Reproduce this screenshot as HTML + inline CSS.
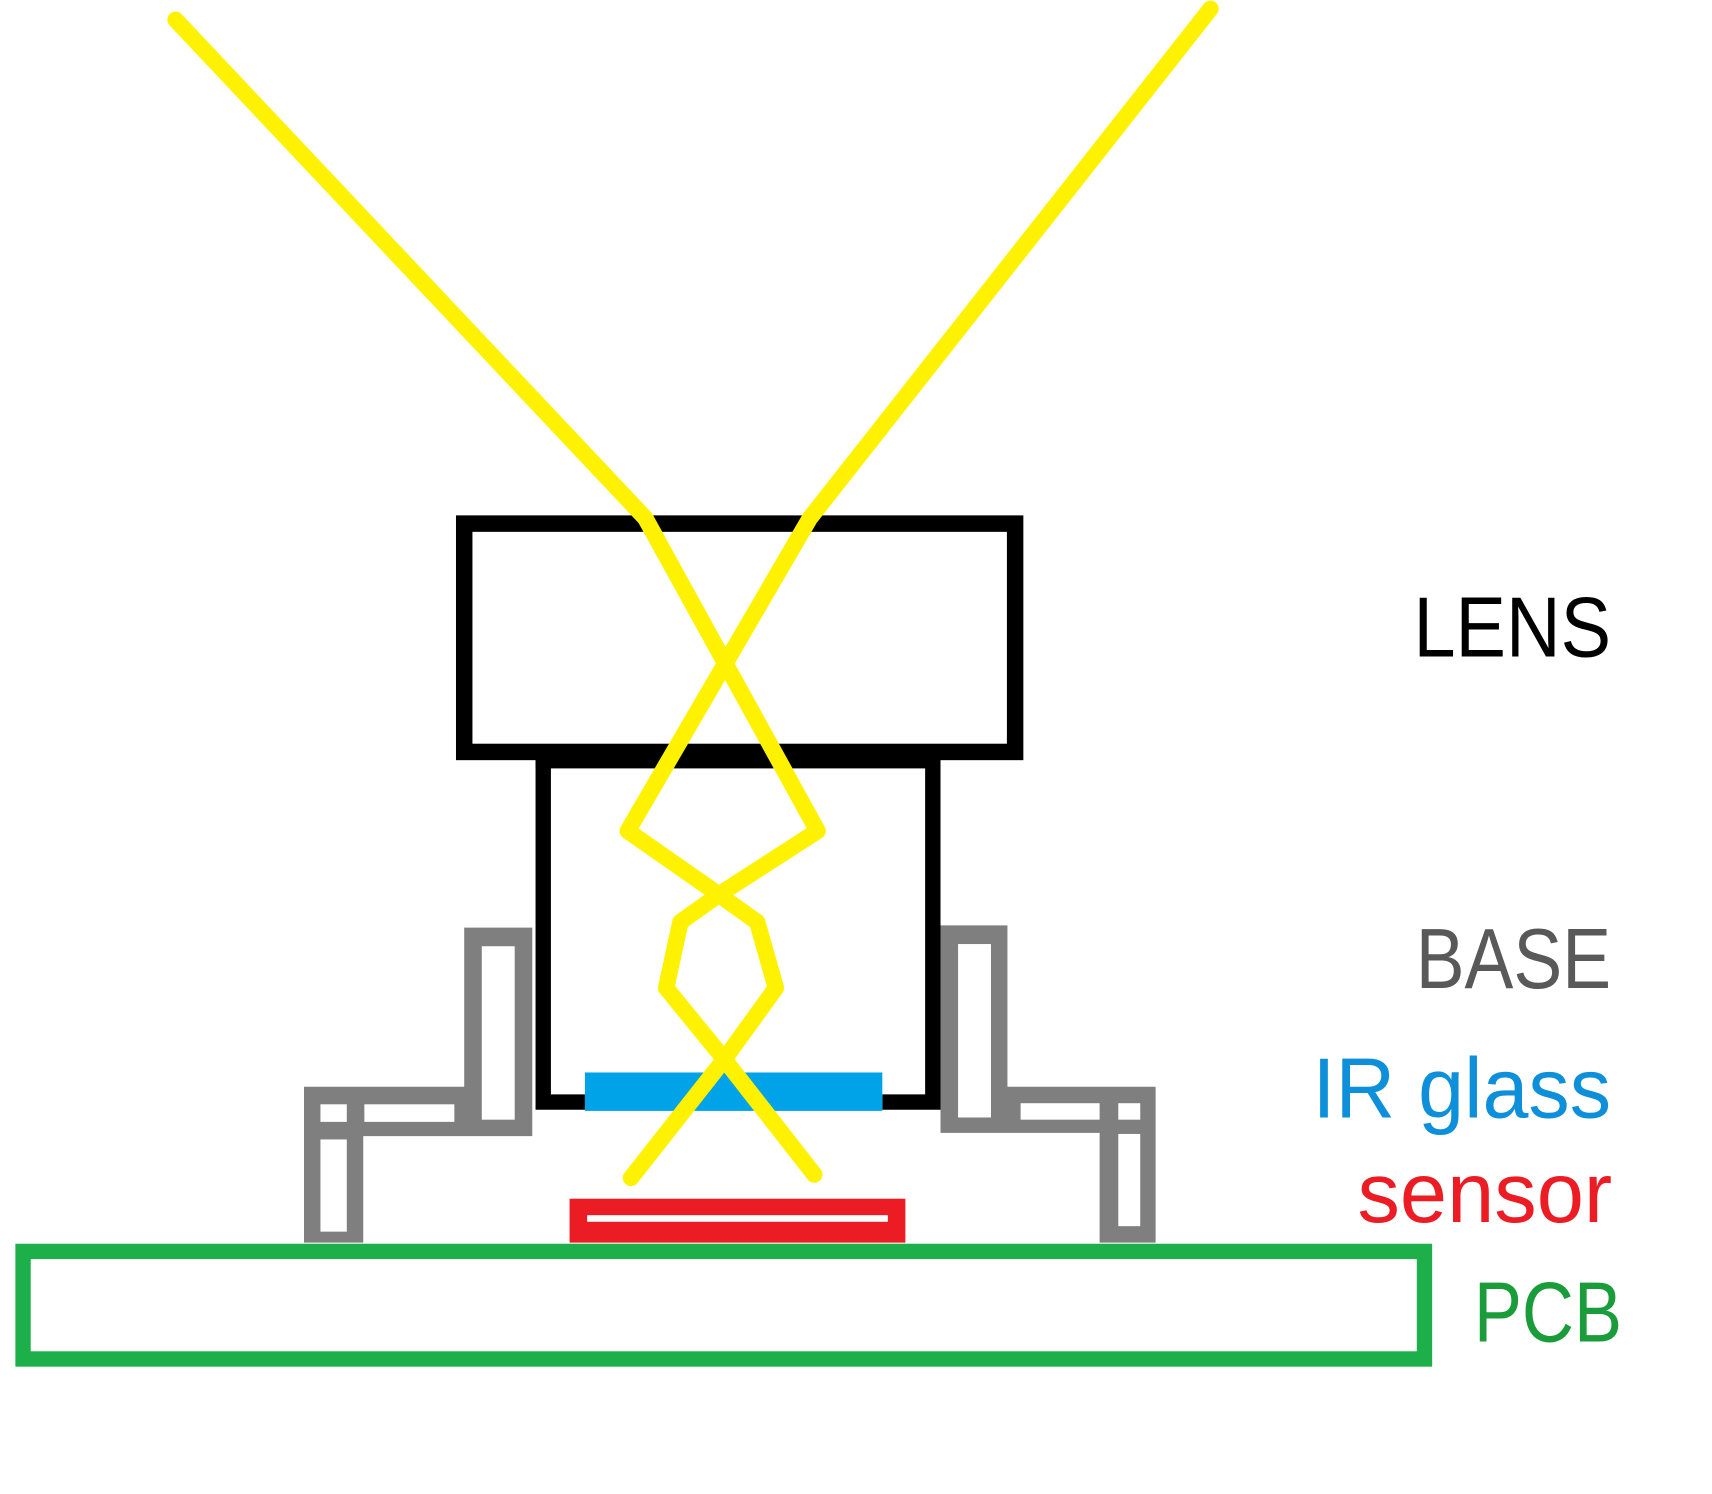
<!DOCTYPE html>
<html><head><style>html,body{margin:0;padding:0;background:#fff;}svg{display:block}</style></head>
<body>
<svg width="1712" height="1494" viewBox="0 0 1560 1361" preserveAspectRatio="none" xmlns="http://www.w3.org/2000/svg">
<rect width="1560" height="1361" fill="#fff"/>
<rect x="21" y="1140" width="1277" height="98" fill="none" stroke="#1db04a" stroke-width="14"/>
<rect x="519" y="1092" width="306" height="40" fill="#ec1c24"/>
<rect x="535" y="1107" width="274" height="6" fill="#fff"/>
<g fill="#7f7f7f">
<path d="M423 845 H485 V1035 H331 V1132 H277 V990 H423 Z"/>
</g>
<g fill="#fff">
<rect x="439" y="862" width="30" height="158"/>
<rect x="292" y="1006" width="24" height="16"/>
<rect x="332" y="1006" width="82" height="16"/>
<rect x="292" y="1038" width="24" height="84"/>
</g>
<g fill="#7f7f7f">
<path d="M857 843 H918 V990 H1053 V1132 H1002 V1032 H857 Z"/>
</g>
<g fill="#fff">
<rect x="873" y="860" width="30" height="158"/>
<rect x="1019" y="1005" width="20" height="15"/>
<rect x="930" y="1005" width="72" height="15"/>
<rect x="1019" y="1033" width="20" height="84"/>
</g>
<path d="M495 692 V1004 H533 M804 1004 H850 V692" fill="none" stroke="#000" stroke-width="14"/>
<rect x="533" y="977" width="271" height="35" fill="#00a2e8"/>
<rect x="423" y="477" width="502" height="208" fill="none" stroke="#000" stroke-width="15"/>
<rect x="488" y="682" width="369" height="18" fill="#000"/>
<g fill="none" stroke="#fff200" stroke-width="15" stroke-linecap="round" stroke-linejoin="round">
<path d="M160 18 L588 472 L745 757 L655 815 L620 840 L607 900 L660 965 L742 1070"/>
<path d="M1103 8 L738 472 L572 757 L655 815 L690 840 L707 900 L660 965 L575 1073"/>
</g>
<g font-family="Liberation Sans, sans-serif" font-size="78">
<text x="1288" y="598" fill="#000" textLength="180" lengthAdjust="spacingAndGlyphs">LENS</text>
<text x="1290" y="900" fill="#595959" textLength="178" lengthAdjust="spacingAndGlyphs">BASE</text>
<text x="1196" y="1018" fill="#0d8fd9" textLength="272" lengthAdjust="spacingAndGlyphs">IR glass</text>
<text x="1237" y="1113" fill="#ec1c24" textLength="232" lengthAdjust="spacingAndGlyphs">sensor</text>
<text x="1343" y="1222" fill="#1a9c3a" textLength="135" lengthAdjust="spacingAndGlyphs">PCB</text>
</g>
</svg>
</body></html>
